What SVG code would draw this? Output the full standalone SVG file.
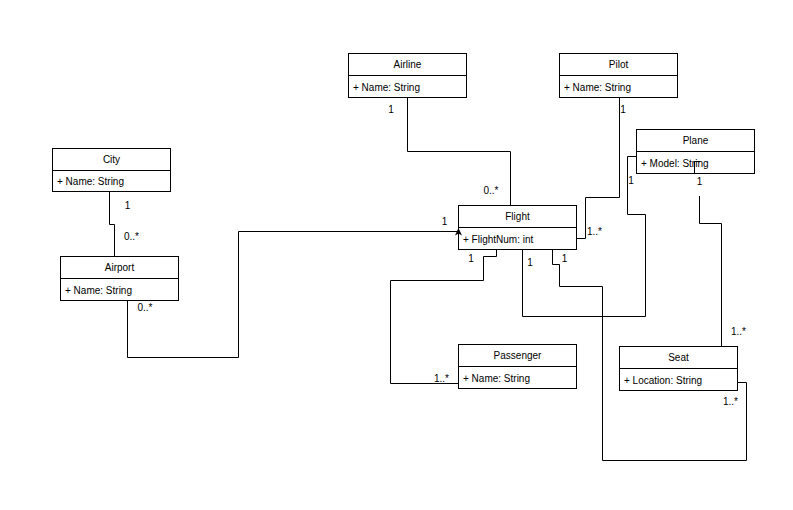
<svg xmlns="http://www.w3.org/2000/svg" width="793" height="510" viewBox="0 0 793 510">
<style>
text{font-family:"Liberation Sans",Arial,sans-serif;font-size:10px;fill:#000}
.t{text-anchor:middle}
.box{fill:#fff;stroke:#000;stroke-width:1}
.c{fill:none;stroke:#000;stroke-width:1}
</style>
<rect width="793" height="510" fill="#fff"/>
<g id="Airline"><rect class="box" x="348.5" y="53.5" width="118" height="44"/><line class="c" x1="348.5" y1="75.5" x2="466.5" y2="75.5"/><text class="t" x="407.5" y="68">Airline</text><text x="353" y="90.5">+ Name: String</text></g>
<g id="Pilot"><rect class="box" x="559.5" y="53.5" width="118" height="44"/><line class="c" x1="559.5" y1="75.5" x2="677.5" y2="75.5"/><text class="t" x="618.5" y="68">Pilot</text><text x="564" y="90.5">+ Name: String</text></g>
<g id="City"><rect class="box" x="52.5" y="148.5" width="118" height="43"/><line class="c" x1="52.5" y1="170.5" x2="170.5" y2="170.5"/><text class="t" x="111.5" y="163">City</text><text x="57" y="185">+ Name: String</text></g>
<g id="Airport"><rect class="box" x="60.5" y="256.5" width="118" height="44"/><line class="c" x1="60.5" y1="278.5" x2="178.5" y2="278.5"/><text class="t" x="119.5" y="271">Airport</text><text x="65" y="293.5">+ Name: String</text></g>
<g id="Flight"><rect class="box" x="458.5" y="205.5" width="118" height="44"/><line class="c" x1="458.5" y1="227.5" x2="576.5" y2="227.5"/><text class="t" x="517.5" y="220">Flight</text><text x="463" y="242.5">+ FlightNum: int</text></g>
<g id="Plane"><rect class="box" x="636.5" y="129.5" width="118" height="44"/><line class="c" x1="636.5" y1="151.5" x2="754.5" y2="151.5"/><text class="t" x="695.5" y="144">Plane</text><text x="641" y="166.5">+ Model: String</text></g>
<g id="Passenger"><rect class="box" x="458.5" y="344.5" width="118" height="44"/><line class="c" x1="458.5" y1="366.5" x2="576.5" y2="366.5"/><text class="t" x="517.5" y="359">Passenger</text><text x="463" y="381.5">+ Name: String</text></g>
<g id="Seat"><rect class="box" x="619.5" y="346.5" width="118" height="44"/><line class="c" x1="619.5" y1="368.5" x2="737.5" y2="368.5"/><text class="t" x="678.5" y="361">Seat</text><text x="624" y="383.5">+ Location: String</text></g>
<g id="connectors">
<path class="c" d="M407.5,97 V151.5 H510.5 V206"/>
<path class="c" d="M619.5,97 V197.5 H585.5 V238.5 H577"/>
<path class="c" d="M522.5,250 V316.5 H645.5 V214.5 H627.5 V156.5 H636.5"/>
<path class="c" d="M552.5,250 V264.5 H559.5 V286.5 H602.5 V460.5 H746.5 V382.5 H738"/>
<path class="c" d="M496.5,250 V256.5 H483.5 V280.5 H390.5 V383.5 H458.5"/>
<path class="c" d="M127.5,301 V357.5 H238.5 V231.5 H458"/>
<path d="M458.5,228 L455,235.5 L458.5,233.5 L462,235.5 Z" fill="#000"/>
<path class="c" d="M109.5,192 V224.5 H114.5 V257"/>
<path class="c" d="M700.5,161.5 H694.5 V173.5"/>
<path class="c" d="M699.5,196 V223.5 H721.5 V346"/>
</g>
<g id="labels">
<text class="t" x="391" y="112.5">1</text>
<text class="t" x="491" y="194">0..*</text>
<text class="t" x="623" y="112.5">1</text>
<text x="587" y="235">1..*</text>
<text class="t" x="631" y="183.5">1</text>
<text class="t" x="699.5" y="185">1</text>
<text x="731" y="335">1..*</text>
<text x="723" y="405">1..*</text>
<text class="t" x="471" y="261.5">1</text>
<text class="t" x="530" y="266">1</text>
<text class="t" x="564.5" y="261.5">1</text>
<text x="434" y="381.5">1..*</text>
<text class="t" x="444.5" y="225">1</text>
<text x="124" y="240">0..*</text>
<text class="t" x="127.5" y="208.5">1</text>
<text x="137.5" y="310.5">0..*</text>
</g>
</svg>
